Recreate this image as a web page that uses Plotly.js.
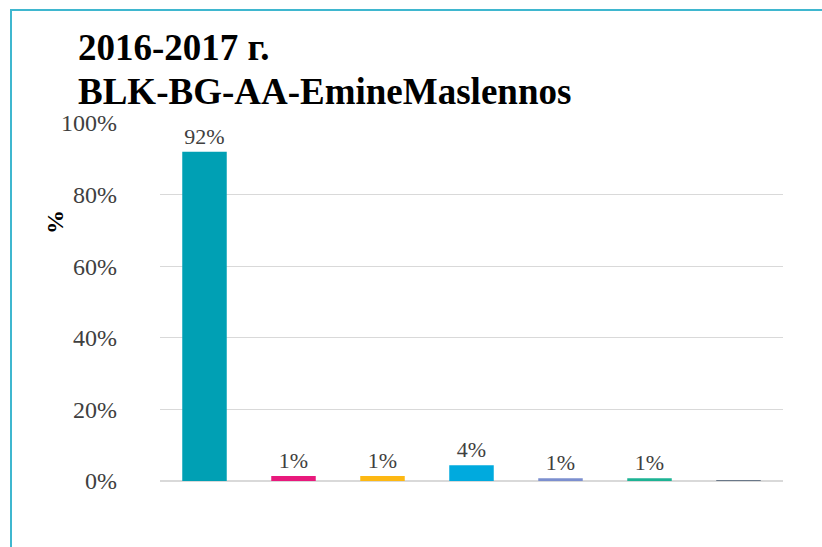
<!DOCTYPE html>
<html>
<head>
<meta charset="utf-8">
<script src="https://cdn.plot.ly/plotly-3.0.1.min.js"></script>
<style>
html,body{margin:0;padding:0;background:#fff;}
#chart{width:822px;height:547px;position:relative;}
#bl{position:absolute;left:10px;top:9px;width:2px;height:538px;background:#3fb7cf;pointer-events:none;}
#bt{position:absolute;left:10px;top:9px;width:812px;height:2px;background:#3fb7cf;pointer-events:none;}
</style>
</head>
<body>
<div id="chart"></div>
<div id="bl"></div><div id="bt"></div>
<script>
const categories = ["A", "B", "C", "D", "E", "F", "G"];
const values = [92, 1.4, 1.4, 4.4, 0.8, 0.8, 0.3];
const labels = ["92%", "1%", "1%", "4%", "1%", "1%", ""];
const colors = ["#00a0b4", "#e8197c", "#fdb813", "#00aade", "#7c8fcf", "#1db394", "#6a7889"];
const tickVals = [0, 20, 40, 60, 80, 100];
const tickText = ["0%", "20%", "40%", "60%", "80%", "100%"];
const titleLines = ["2016-2017 г.", "BLK-BG-AA-EmineMaslennos"];
const yTitle = "%";

const SERIF = "Liberation Serif";
const W = 822, H = 547, L = 160, R = 39, T = 123, B = 66;
const ph = H - T - B, pw = W - L - R;
const py = p => (H - B - p) / ph;   // pixel y -> paper y
const px = p => (p - L) / pw;       // pixel x -> paper x

const trace = {
  type: "bar",
  x: categories,
  y: values,
  text: labels,
  textposition: "outside",
  cliponaxis: false,
  textfont: {family: SERIF, size: 22, color: "#404040"},
  marker: {color: colors},
  width: 0.5,
  hoverinfo: "none"
};

const layout = {
  width: W, height: H,
  margin: {l: L, r: R, t: T, b: B},
  paper_bgcolor: "#fff", plot_bgcolor: "#fff",
  showlegend: false,
  font: {family: SERIF},
  xaxis: {
    showticklabels: false, showgrid: false, zeroline: false, showline: false,
    ticks: ""
  },
  yaxis: {
    range: [0, 100], tickvals: tickVals, ticktext: tickText,
    showgrid: true, gridcolor: "#d9d9d9", gridwidth: 1,
    zeroline: true, zerolinecolor: "#d9d9d9", zerolinewidth: 2,
    showline: false, ticks: "", ticklen: 0, ticklabelstandoff: 42,
    tickfont: {family: SERIF, size: 24, color: "#404040"}
  },
  annotations: [
    {text: "<b>" + titleLines[0] + "</b>", xref: "paper", yref: "paper",
     x: px(76), y: py(48), xanchor: "left", yanchor: "middle", showarrow: false,
     font: {family: SERIF, size: 37, color: "#000"}},
    {text: "<b>" + titleLines[1] + "</b>", xref: "paper", yref: "paper",
     x: px(76), y: py(91), xanchor: "left", yanchor: "middle", showarrow: false,
     font: {family: SERIF, size: 37, color: "#000"}},
    {text: "<b>" + yTitle + "</b>", xref: "paper", yref: "paper",
     x: px(55), y: py(222), xanchor: "center", yanchor: "middle", showarrow: false,
     textangle: -90, font: {family: SERIF, size: 24, color: "#000"}}
  ],
  bargap: 0.5
};

Plotly.newPlot("chart", [trace], layout, {displayModeBar: false, staticPlot: true});
</script>
</body>
</html>
